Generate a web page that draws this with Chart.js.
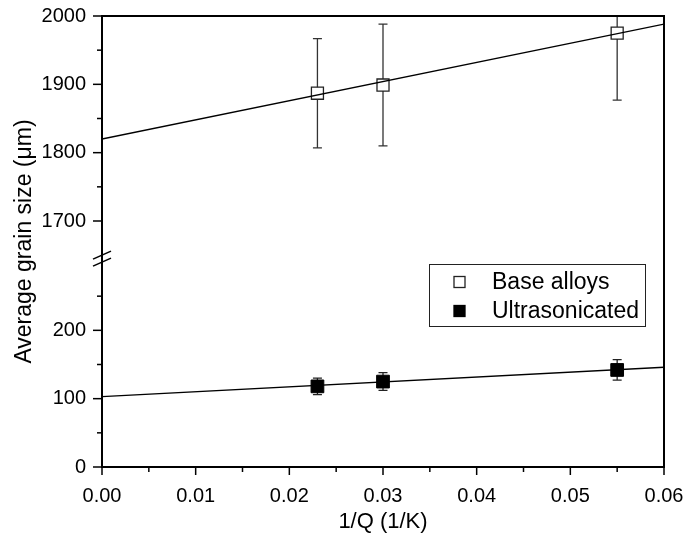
<!DOCTYPE html>
<html><head><meta charset="utf-8">
<script src="https://cdn.jsdelivr.net/npm/chart.js@4/dist/chart.umd.min.js"></script>
<style>html,body{margin:0;padding:0;background:#fff}</style>
</head><body>
<canvas id="c" width="684" height="545"></canvas>
<script>
// ---- data ----
const xValues = [0.023, 0.030, 0.055];
const baseAlloys = [1887, 1899, 1975];
const baseErr = [80, 89, 98];
const ultrasonicated = [118, 125, 142];
const ultraErr = [12, 13, 15];
const fitX = [0, 0.06];
const baseFit = [1820, 1988];
const ultraFit = [103, 146];
// ---- axes ----
const xTicks = [0, 0.005, 0.01, 0.015, 0.02, 0.025, 0.03, 0.035, 0.04, 0.045, 0.05, 0.055, 0.06];
const xTickLabels = ['0.00', '', '0.01', '', '0.02', '', '0.03', '', '0.04', '', '0.05', '', '0.06'];
const lowerTicks = [0, 50, 100, 150, 200, 250];
const lowerTickLabels = ['0', '', '100', '', '200', ''];
const upperTicks = [1700, 1750, 1800, 1850, 1900, 1950, 2000];
const upperTickLabels = ['1700', '', '1800', '', '1900', '', '2000'];
const lowerRange = [0, 305];
const upperRange = [1645, 2000];
const seriesNames = ['Base alloys', 'Ultrasonicated'];
const xTitle = '1/Q (1/K)';
const yTitle = 'Average grain size (\u03bcm)';

const FONT = "'Liberation Sans', Arial, sans-serif";
const pts = (ys) => xValues.map((x, i) => ({x: x, y: ys[i]}));
const fitPts = (ys) => fitX.map((x, i) => ({x: x, y: ys[i]}));

function setTicks(vals) {
  return function(scale) { scale.ticks = vals.map(v => ({value: v})); };
}
function labelFor(vals, labels) {
  return function(v) { const i = vals.indexOf(v); return i >= 0 ? labels[i] : ''; };
}

const decorPlugin = {
  id: 'decor',
  beforeDatasetsDraw(chart) {
    const ctx = chart.ctx, a = chart.chartArea;
    ctx.save();
    ctx.beginPath(); ctx.rect(a.left, a.top, a.right - a.left, a.bottom - a.top); ctx.clip();
    const xs = chart.scales.x;
    const sets = [
      {vals: baseAlloys, err: baseErr, scale: chart.scales.yUp, color: '#333', cap: 4.5},
      {vals: ultrasonicated, err: ultraErr, scale: chart.scales.yLow, color: '#222', cap: 4.5}
    ];
    ctx.lineWidth = 1.3;
    sets.forEach(s => {
      ctx.strokeStyle = s.color;
      xValues.forEach((x, i) => {
        const px = xs.getPixelForValue(x);
        const y1 = s.scale.getPixelForValue(s.vals[i] + s.err[i]);
        const y2 = s.scale.getPixelForValue(s.vals[i] - s.err[i]);
        ctx.beginPath();
        ctx.moveTo(px, y1); ctx.lineTo(px, y2);
        ctx.moveTo(px - s.cap, y1); ctx.lineTo(px + s.cap, y1);
        ctx.moveTo(px - s.cap, y2); ctx.lineTo(px + s.cap, y2);
        ctx.stroke();
      });
    });
    ctx.restore();
  },
  afterDraw(chart) {
    const ctx = chart.ctx, a = chart.chartArea;
    ctx.save();
    // box
    ctx.strokeStyle = '#000'; ctx.lineWidth = 2;
    ctx.strokeRect(a.left, a.top, a.right - a.left, a.bottom - a.top);
    // tick marks
    ctx.lineWidth = 1.5;
    const xs = chart.scales.x;
    xTicks.forEach((v, i) => {
      const px = xs.getPixelForValue(v);
      const len = xTickLabels[i] ? 8 : 5;
      ctx.beginPath(); ctx.moveTo(px, a.bottom); ctx.lineTo(px, a.bottom + len); ctx.stroke();
    });
    [[chart.scales.yLow, lowerTicks, lowerTickLabels], [chart.scales.yUp, upperTicks, upperTickLabels]].forEach(([sc, vals, labs]) => {
      vals.forEach((v, i) => {
        const py = sc.getPixelForValue(v);
        const len = labs[i] ? 9 : 5;
        ctx.beginPath(); ctx.moveTo(a.left, py); ctx.lineTo(a.left - len, py); ctx.stroke();
      });
    });
    // break marks
    const by = (chart.scales.yUp.bottom + chart.scales.yLow.top) / 2;
    ctx.lineWidth = 1.5;
    [-3.5, 3.5].forEach(d => {
      ctx.beginPath();
      ctx.moveTo(a.left - 9, by + d + 4);
      ctx.lineTo(a.left + 9, by + d - 4);
      ctx.stroke();
    });
    // axis titles
    ctx.fillStyle = '#000';
    ctx.font = '22px ' + FONT;
    ctx.textAlign = 'center'; ctx.textBaseline = 'middle';
    ctx.fillText(xTitle, (a.left + a.right) / 2, 522);
    ctx.save();
    ctx.font = '23px ' + FONT;
    ctx.translate(25, (a.top + a.bottom) / 2);
    ctx.rotate(-Math.PI / 2);
    ctx.fillText(yTitle, 0, 0);
    ctx.restore();
    // legend
    ctx.lineWidth = 1;
    ctx.strokeStyle = '#222';
    ctx.strokeRect(429.5, 264.5, 216, 62);
    const rows = [282, 311];
    ctx.textAlign = 'left';
    ctx.font = '23px ' + FONT;
    rows.forEach((ry, i) => {
      const ds = chart.data.datasets[i + 2];
      ctx.fillStyle = ds.pointBackgroundColor;
      ctx.strokeStyle = ds.pointBorderColor;
      ctx.lineWidth = 1.3;
      ctx.fillRect(454, ry - 5.5, 11, 11);
      ctx.strokeRect(454, ry - 5.5, 11, 11);
      ctx.fillStyle = '#000';
      ctx.fillText(seriesNames[i], 492, ry + 1);
    });
    ctx.restore();
  }
};

new Chart(document.getElementById('c'), {
  type: 'scatter',
  data: {
    datasets: [
      {type: 'line', data: fitPts(baseFit), yAxisID: 'yUp', borderColor: '#000', borderWidth: 1.3, pointRadius: 0, fill: false},
      {type: 'line', data: fitPts(ultraFit), yAxisID: 'yLow', borderColor: '#000', borderWidth: 1.3, pointRadius: 0, fill: false},
      {label: seriesNames[0], data: pts(baseAlloys), yAxisID: 'yUp', pointStyle: 'rect', pointRadius: 8.5,
       pointBackgroundColor: '#fff', pointBorderColor: '#222', pointBorderWidth: 1.3},
      {label: seriesNames[1], data: pts(ultrasonicated), yAxisID: 'yLow', pointStyle: 'rect', pointRadius: 9,
       pointBackgroundColor: '#000', pointBorderColor: '#000', pointBorderWidth: 1}
    ]
  },
  options: {
    responsive: false, animation: false, devicePixelRatio: 1,
    layout: {padding: {top: 16, right: 20, left: 0, bottom: 0}},
    plugins: {legend: {display: false}, tooltip: {enabled: false}},
    scales: {
      x: {
        type: 'linear', min: 0, max: 0.06,
        afterBuildTicks: setTicks(xTicks),
        afterFit(s) { s.height = 78; s.paddingRight = 0; s.paddingLeft = 0; },
        grid: {display: false}, border: {display: false},
        ticks: {callback: labelFor(xTicks, xTickLabels), color: '#000', font: {family: FONT, size: 20}, padding: 9, maxRotation: 0, autoSkip: false}
      },
      yLow: {
        type: 'linear', position: 'left', stack: 'y', stackWeight: lowerRange[1] - lowerRange[0],
        min: lowerRange[0], max: lowerRange[1],
        afterBuildTicks: setTicks(lowerTicks),
        afterFit(s) { s.width = 102; s.paddingTop = 0; s.paddingBottom = 0; },
        grid: {display: false}, border: {display: false},
        ticks: {callback: labelFor(lowerTicks, lowerTickLabels), color: '#000', font: {family: FONT, size: 20}, padding: 8, autoSkip: false}
      },
      yUp: {
        type: 'linear', position: 'left', stack: 'y', stackWeight: upperRange[1] - upperRange[0],
        min: upperRange[0], max: upperRange[1],
        afterBuildTicks: setTicks(upperTicks),
        afterFit(s) { s.width = 102; s.paddingTop = 0; s.paddingBottom = 0; },
        grid: {display: false}, border: {display: false},
        ticks: {callback: labelFor(upperTicks, upperTickLabels), color: '#000', font: {family: FONT, size: 20}, padding: 8, autoSkip: false}
      }
    }
  },
  plugins: [decorPlugin]
});
</script>
</body></html>
